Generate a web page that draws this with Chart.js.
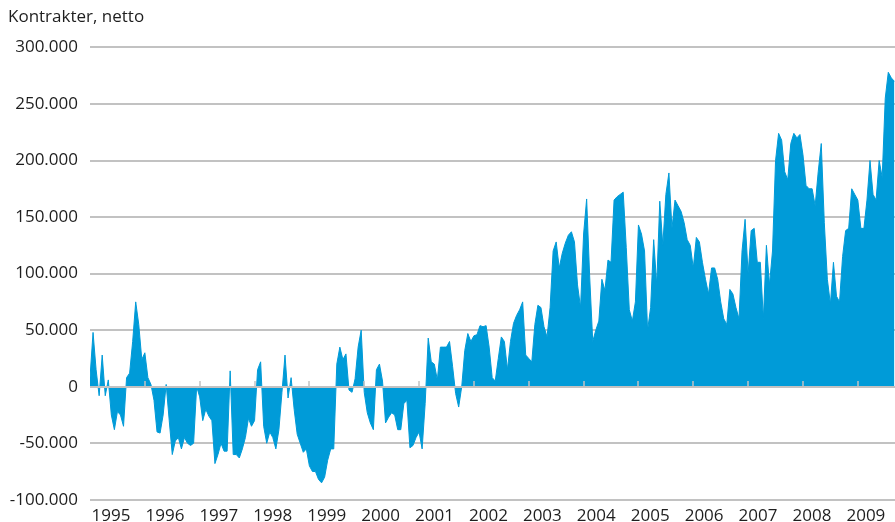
<!DOCTYPE html>
<html>
<head>
<meta charset="utf-8">
<script src="https://cdn.jsdelivr.net/npm/chart.js@4.4.1/dist/chart.umd.min.js"></script>
<style>
  html, body { margin: 0; padding: 0; background: #fff; }
</style>
</head>
<body>
<canvas id="netChart" width="895" height="522"></canvas>
<script>
const years = [1995, 1996, 1997, 1998, 1999, 2000, 2001, 2002, 2003, 2004, 2005, 2006, 2007, 2008, 2009];
const samplesPerYear = 18;

const v1995 = [8, 48, 15, -8, 28, -8, 6, -25, -38, -22, -25, -35, 8, 12, 40, 75, 55, 24];
const v1996 = [30, 8, 2, -12, -40, -41, -25, 2, -30, -60, -48, -45, -55, -45, -50, -52, -50, 0];
const v1997 = [-9, -30, -20, -26, -30, -68, -60, -50, -57, -57, 14, -60, -60, -63, -55, -45, -28, -35];
const v1998 = [-30, 15, 22, -35, -50, -40, -45, -55, -38, -5, 28, -10, 8, -20, -42, -50, -58, -55];
const v1999 = [-70, -75, -75, -82, -85, -80, -65, -55, -55, 20, 35, 24, 29, -3, -5, 7, 35, 50];
const v2000 = [-5, -23, -32, -38, 15, 20, 5, -32, -27, -23, -25, -38, -38, -15, -12, -54, -52, -45];
const v2001 = [-40, -55, -15, 43, 22, 20, 6, 35, 35, 35, 40, 18, -6, -18, 0, 32, 47, 40];
const v2002 = [45, 46, 54, 53, 54, 35, 8, 5, 25, 44, 40, 15, 40, 56, 63, 68, 75, 28];
const v2003 = [25, 22, 55, 72, 70, 53, 44, 70, 120, 128, 105, 118, 127, 134, 137, 128, 90, 70];
const v2004 = [135, 166, 97, 40, 50, 58, 95, 85, 112, 110, 165, 168, 170, 172, 123, 68, 58, 75];
const v2005 = [143, 135, 120, 50, 70, 130, 90, 164, 125, 170, 189, 140, 165, 160, 155, 145, 130, 125];
const v2006 = [105, 132, 128, 110, 95, 82, 105, 105, 95, 75, 60, 55, 86, 82, 70, 60, 120, 148];
const v2007 = [100, 138, 140, 110, 110, 60, 125, 90, 120, 200, 224, 218, 190, 183, 215, 224, 220, 223];
const v2008 = [205, 178, 175, 175, 160, 190, 215, 145, 95, 73, 110, 80, 75, 115, 138, 140, 175, 170];
const v2009 = [165, 140, 140, 165, 200, 170, 165, 200, 185, 255, 278, 273, 270];

const yearValues = [v1995, v1996, v1997, v1998, v1999, v2000, v2001, v2002, v2003, v2004, v2005, v2006, v2007, v2008, v2009];

const yTicks = [-100, -50, 0, 50, 100, 150, 200, 250, 300];

const blue = "#009bd8";
const gridColor = "#c2c2c2";

const points = [];
yearValues.forEach((vals, k) => {
  vals.forEach((v, i) => {
    points.push({ x: years[k] + i / samplesPerYear, y: v });
  });
});

function fmtThousands(v) {
  if (v === 0) return "0";
  return (v < 0 ? "-" : "") + Math.abs(v) + ".000";
}

Chart.defaults.font.family = "'Open Sans', sans-serif";
Chart.defaults.font.size = 17;
Chart.defaults.color = "#1e1e1e";

// zero line and the small year marks sit on top of the area
const zeroLine = {
  id: "zeroLine",
  afterDatasetsDraw(chart) {
    const { ctx, chartArea, scales } = chart;
    const y0 = Math.round(scales.y.getPixelForValue(0));
    ctx.save();
    ctx.strokeStyle = gridColor;
    ctx.lineWidth = 2;
    ctx.beginPath();
    ctx.moveTo(chartArea.left, y0);
    ctx.lineTo(chartArea.right, y0);
    ctx.stroke();
    ctx.lineWidth = 1.5;
    ctx.beginPath();
    years.slice(1).forEach((yr) => {
      const x = Math.round(scales.x.getPixelForValue(yr));
      ctx.moveTo(x, y0);
      ctx.lineTo(x, y0 - 6);
    });
    ctx.stroke();
    ctx.restore();
  },
};

const netChart = new Chart(document.getElementById("netChart").getContext("2d"), {
  type: "line",
  data: {
    datasets: [
      {
        data: points,
        xAxisID: "x",
        yAxisID: "y",
        fill: "origin",
        backgroundColor: blue,
        borderColor: blue,
        borderWidth: 1,
        pointRadius: 0,
        tension: 0,
      },
    ],
  },
  options: {
    responsive: false,
    animation: false,
    layout: { padding: { left: 8, right: 0, top: 0, bottom: 0 } },
    plugins: {
      legend: { display: false },
      tooltip: { enabled: false },
      title: {
        display: true,
        text: "Kontrakter, netto",
        align: "start",
        color: "#1e1e1e",
        font: { size: 17, weight: "normal" },
        padding: { top: 7, bottom: 20 },
      },
    },
    scales: {
      x: {
        type: "linear",
        display: false,
        min: 1995,
        max: 2009 + 12.2 / samplesPerYear,
      },
      // year labels run on their own slightly narrower spacing
      xl: {
        type: "linear",
        position: "bottom",
        min: 1994.6105,
        max: 2009.54,
        afterBuildTicks: (axis) => {
          axis.ticks = years.map((v) => ({ value: v }));
        },
        afterFit: (axis) => {
          axis.height = 22;
        },
        grid: { display: false },
        border: { display: false },
        ticks: {
          autoSkip: false,
          maxRotation: 0,
          padding: 0,
          font: { size: 17, lineHeight: 1 },
          callback: (v) => String(v),
        },
      },
      y: {
        min: -100,
        max: 300,
        afterBuildTicks: (axis) => {
          axis.ticks = yTicks.map((v) => ({ value: v }));
        },
        afterFit: (axis) => {
          axis.width = 82;
        },
        border: { display: false },
        grid: {
          drawTicks: false,
          lineWidth: 2,
          color: (c) => (c.tick && c.tick.value === 0 ? "rgba(0,0,0,0)" : gridColor),
        },
        ticks: {
          padding: 12,
          callback: (v) => fmtThousands(v),
        },
      },
    },
  },
  plugins: [zeroLine],
});
</script>
</body>
</html>
